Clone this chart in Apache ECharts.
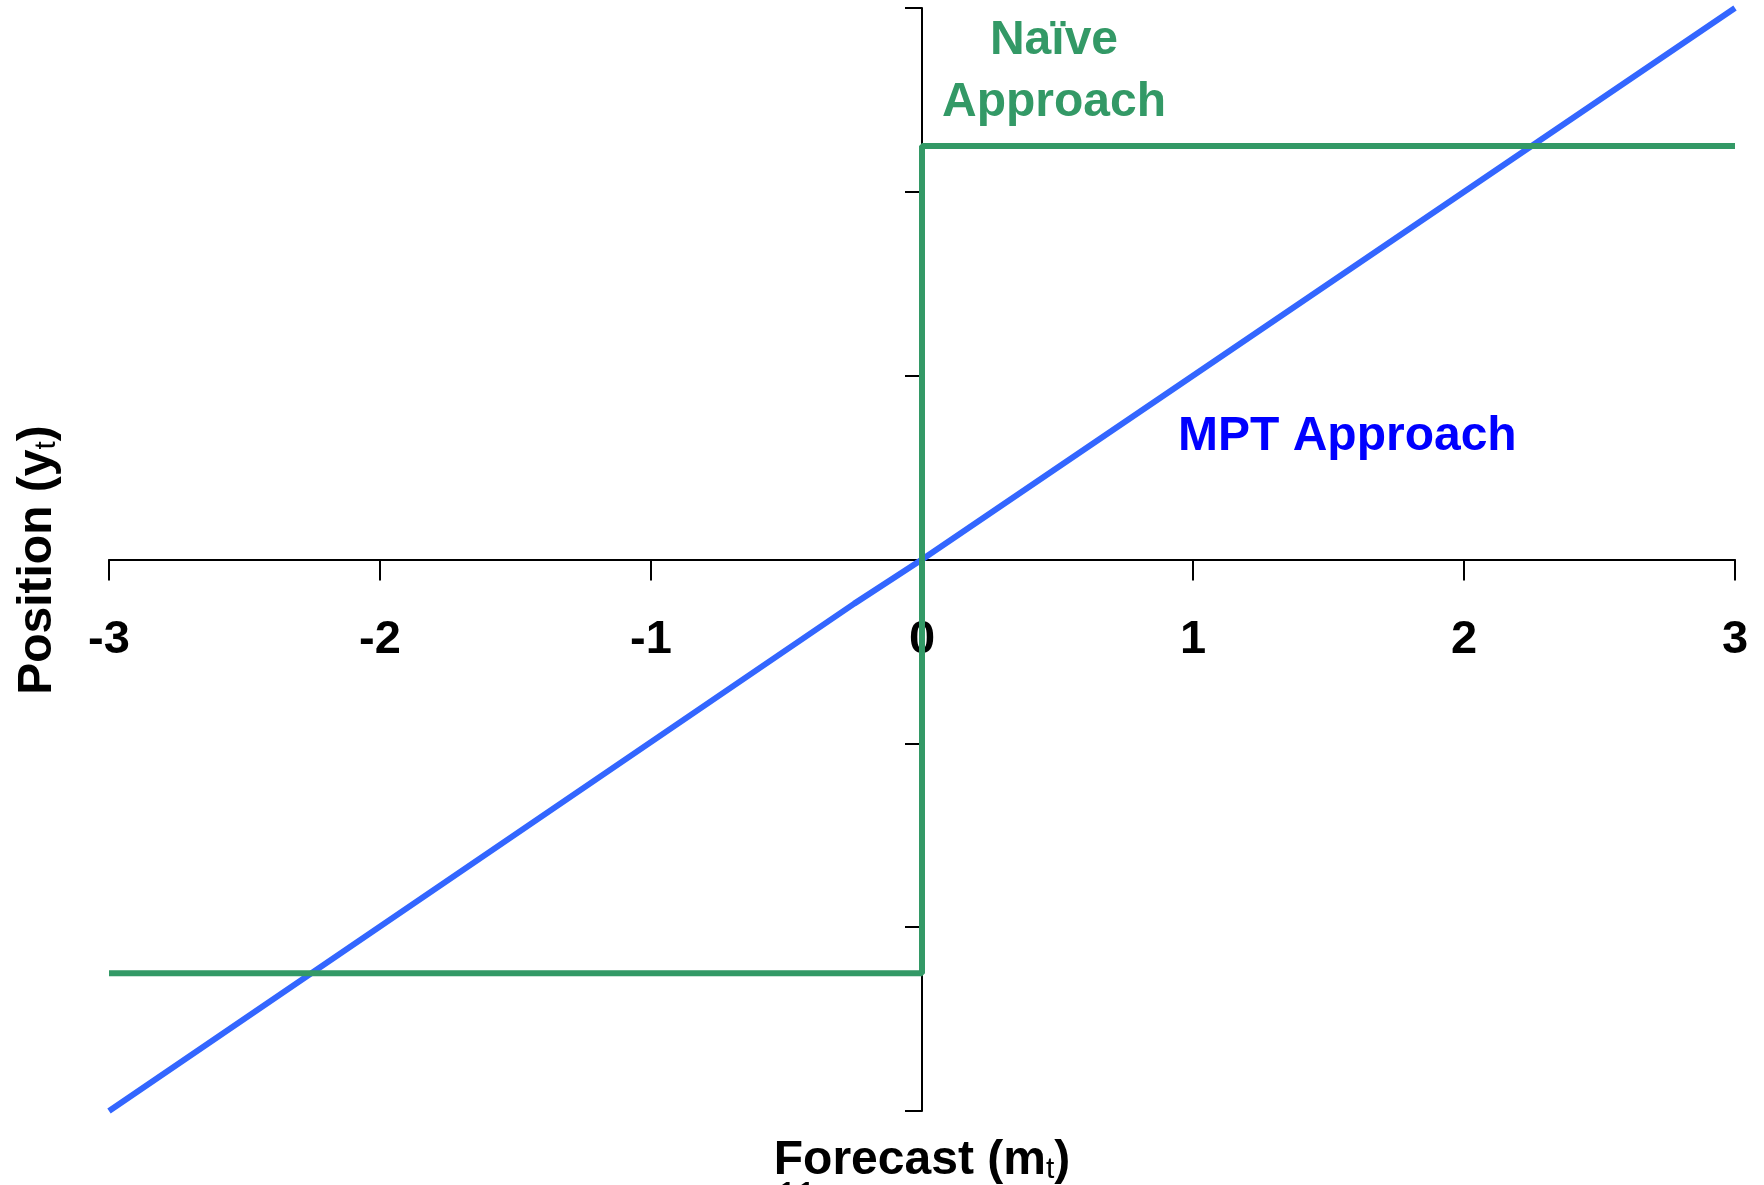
<!DOCTYPE html>
<html>
<head>
<meta charset="utf-8">
<script src="https://cdn.jsdelivr.net/npm/echarts@6/dist/echarts.min.js"></script>
<style>html,body{margin:0;padding:0;background:#fff;}#c{width:1764px;height:1185px;}</style>
</head>
<body>
<div id="c"></div>
<script>
const xTickValues = [-3, -2, -1, 0, 1, 2, 3];
const mptX = [-3, -0.25, 0, 3];
const mptY = [-3, -0.24, 0, 3];
const naiveX = [-3, 0, 0, 3];
const naiveY = [-2.25, -2.25, 2.25, 2.25];

const chart = echarts.init(document.getElementById('c'));
const FONT = '"Liberation Sans", Arial, sans-serif';
chart.setOption({
  animation: false,
  backgroundColor: '#ffffff',
  grid: { left: 109, right: 29, top: 8, bottom: 74, containLabel: false, outerBoundsMode: 'none' },
  xAxis: {
    type: 'value', min: -3, max: 3, interval: 1,
    position: 'bottom', offset: -551.5,
    splitLine: { show: false },
    axisLine: { onZero: false, lineStyle: { color: '#000', width: 2 } },
    axisTick: { show: true, length: 21, lineStyle: { color: '#000', width: 2 } },
    axisLabel: { show: true, margin: 57, fontSize: 47, fontWeight: 'bold', color: '#000', fontFamily: FONT,
      formatter: v => xTickValues.includes(v) ? String(v) : '' }
  },
  yAxis: {
    type: 'value', min: -3, max: 3, interval: 1,
    splitLine: { show: false },
    axisLine: { onZero: true, lineStyle: { color: '#000', width: 2 } },
    axisTick: { show: true, length: 17, lineStyle: { color: '#000', width: 2 } },
    axisLabel: { show: false }
  },
  series: [
    { type: 'line', name: 'MPT', data: mptX.map((x, i) => [x, mptY[i]]), showSymbol: false, symbol: 'none',
      lineStyle: { color: '#3366FF', width: 6 }, z: 3 },
    { type: 'line', name: 'Naive', data: naiveX.map((x, i) => [x, naiveY[i]]), showSymbol: false, symbol: 'none',
      lineStyle: { color: '#339966', width: 6 }, z: 4 }
  ],
  graphic: [
    { type: 'text', style: { text: 'Naïve\nApproach', x: 1054, y: 72, textAlign: 'center', textVerticalAlign: 'middle',
      font: 'bold 48px ' + FONT, fill: '#339966', lineHeight: 62 } },
    { type: 'text', style: { text: 'MPT Approach', x: 1178, y: 437, textAlign: 'left', textVerticalAlign: 'middle',
      font: 'bold 48px ' + FONT, fill: '#0000FF' } },
    { type: 'text', x: 922, y: 1157, style: {
      text: '{a|Forecast (m}{s|t}{a|)}', align: 'center', verticalAlign: 'middle',
      rich: { a: { fontSize: 48, fontWeight: 'bold', fontFamily: FONT, color: '#000', verticalAlign: 'bottom', lineHeight: 56 },
              s: { fontSize: 30, fontWeight: 'normal', fontFamily: FONT, color: '#000', verticalAlign: 'bottom', lineHeight: 50 } } } },
    { type: 'text', x: 34, y: 560, rotation: Math.PI / 2, style: {
      text: '{a|Position (y}{s|t}{a|)}', align: 'center', verticalAlign: 'middle',
      rich: { a: { fontSize: 48, fontWeight: 'bold', fontFamily: FONT, color: '#000', verticalAlign: 'bottom', lineHeight: 56 },
              s: { fontSize: 30, fontWeight: 'normal', fontFamily: FONT, color: '#000', verticalAlign: 'bottom', lineHeight: 50 } } } },
    { type: 'text', style: { text: '11', x: 776, y: 1179, textAlign: 'left', textVerticalAlign: 'top',
      font: '40px ' + FONT, fill: '#000' } }
  ]
});
</script>
</body>
</html>
